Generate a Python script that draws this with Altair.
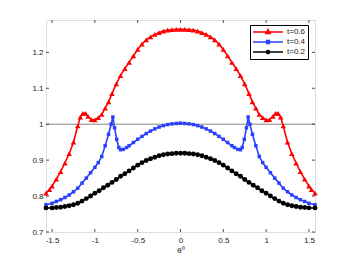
import altair as alt
import pandas as pd

# ---- data ----
series_names = ["t=0.6", "t=0.4", "t=0.2"]
series_colors = ["#ff0000", "#2b3fff", "#000000"]

theta_red = [-1.5708, -1.53, -1.50, -1.45, -1.40, -1.35, -1.30, -1.25, -1.20, -1.17, -1.14, -1.11,
             -1.08, -1.04, -1.00, -0.96, -0.92, -0.88, -0.84, -0.80, -0.75, -0.70, -0.65, -0.60,
             -0.55, -0.50, -0.45, -0.40, -0.35, -0.30, -0.25, -0.20, -0.15, -0.10, -0.05, 0.0,
             0.05, 0.10, 0.15, 0.20, 0.25, 0.30, 0.35, 0.40, 0.45, 0.50, 0.55, 0.60, 0.65, 0.70,
             0.75, 0.80, 0.84, 0.88, 0.92, 0.96, 1.00, 1.04, 1.08, 1.11, 1.14, 1.17, 1.20, 1.25,
             1.30, 1.35, 1.40, 1.45, 1.50, 1.53, 1.5708]
red = [0.808, 0.818, 0.828, 0.847, 0.868, 0.892, 0.918, 0.950, 0.995, 1.020, 1.030, 1.030,
       1.022, 1.013, 1.012, 1.018, 1.027, 1.045, 1.062, 1.085, 1.112, 1.135, 1.155, 1.172,
       1.190, 1.208, 1.223, 1.235, 1.243, 1.250, 1.255, 1.259, 1.262, 1.263, 1.264, 1.264,
       1.264, 1.263, 1.262, 1.259, 1.255, 1.250, 1.243, 1.235, 1.223, 1.208, 1.190, 1.172,
       1.155, 1.135, 1.112, 1.085, 1.062, 1.045, 1.027, 1.018, 1.012, 1.013, 1.022, 1.030,
       1.030, 1.020, 0.995, 0.950, 0.918, 0.892, 0.868, 0.847, 0.828, 0.818, 0.808]

theta_blue = [-1.5708, -1.50, -1.45, -1.40, -1.35, -1.30, -1.25, -1.20, -1.15, -1.10, -1.05, -1.00,
              -0.96, -0.92, -0.88, -0.84, -0.81, -0.79, -0.77, -0.745, -0.72, -0.70, -0.67, -0.63,
              -0.60, -0.55, -0.50, -0.45, -0.40, -0.35, -0.30, -0.25, -0.20, -0.15, -0.10, -0.05,
              0.0,
              0.05, 0.10, 0.15, 0.20, 0.25, 0.30, 0.35, 0.40, 0.45, 0.50, 0.55, 0.60, 0.63, 0.67,
              0.70, 0.72, 0.745, 0.77, 0.79, 0.81, 0.84, 0.88, 0.92, 0.96, 1.00, 1.05, 1.10, 1.15,
              1.20, 1.25, 1.30, 1.35, 1.40, 1.45, 1.50, 1.5708]
blue = [0.776, 0.780, 0.785, 0.790, 0.796, 0.803, 0.812, 0.822, 0.836, 0.850, 0.865, 0.880,
        0.893, 0.910, 0.940, 0.972, 1.000, 1.020, 0.990, 0.958, 0.935, 0.929, 0.930, 0.935,
        0.940, 0.949, 0.958, 0.966, 0.974, 0.981, 0.987, 0.992, 0.996, 0.999, 1.001, 1.002,
        1.003,
        1.002, 1.001, 0.999, 0.996, 0.992, 0.987, 0.981, 0.974, 0.966, 0.958, 0.949, 0.940,
        0.935, 0.930, 0.929, 0.935, 0.958, 0.990, 1.020, 1.000, 0.972, 0.940, 0.910, 0.893,
        0.880, 0.865, 0.850, 0.836, 0.822, 0.812, 0.803, 0.796, 0.790, 0.785, 0.780, 0.776]

theta_black = [-1.5708, -1.50, -1.45, -1.40, -1.35, -1.30, -1.25, -1.20, -1.15, -1.10, -1.05, -1.00,
               -0.95, -0.90, -0.85, -0.80, -0.75, -0.70, -0.65, -0.60, -0.55, -0.50, -0.45, -0.40,
               -0.35, -0.30, -0.25, -0.20, -0.15, -0.10, -0.05, 0.0,
               0.05, 0.10, 0.15, 0.20, 0.25, 0.30, 0.35, 0.40, 0.45, 0.50, 0.55, 0.60, 0.65, 0.70,
               0.75, 0.80, 0.85, 0.90, 0.95, 1.00, 1.05, 1.10, 1.15, 1.20, 1.25, 1.30, 1.35, 1.40,
               1.45, 1.50, 1.5708]
black = [0.767, 0.767, 0.768, 0.769, 0.771, 0.773, 0.776, 0.780, 0.786, 0.793, 0.800, 0.808,
         0.815, 0.823, 0.830, 0.838, 0.846, 0.855, 0.862, 0.870, 0.878, 0.886, 0.893, 0.899,
         0.904, 0.908, 0.912, 0.915, 0.917, 0.918, 0.919, 0.919,
         0.919, 0.918, 0.917, 0.915, 0.912, 0.908, 0.904, 0.899, 0.893, 0.886, 0.878, 0.870,
         0.862, 0.855, 0.846, 0.838, 0.830, 0.823, 0.815, 0.808, 0.800, 0.793, 0.786, 0.780,
         0.776, 0.773, 0.771, 0.769, 0.768, 0.767, 0.767]

x_ticks = [-1.5, -1, -0.5, 0, 0.5, 1, 1.5]
y_ticks = [0.7, 0.8, 0.9, 1.0, 1.1, 1.2]
ref_line = [1.0]
x_domain = [-1.5708, 1.5708]
y_domain = [0.7, 1.29]

# ---- build tables ----
df = pd.concat([
    pd.DataFrame({"theta": theta_red, "value": red, "series": series_names[0]}),
    pd.DataFrame({"theta": theta_blue, "value": blue, "series": series_names[1]}),
    pd.DataFrame({"theta": theta_black, "value": black, "series": series_names[2]}),
], ignore_index=True)
xt = pd.DataFrame({"theta": x_ticks})
yt = pd.DataFrame({"value": y_ticks})
rl = pd.DataFrame({"value": ref_line})

W, H = 269, 212
FONT = "Liberation Sans"

xs = alt.Scale(domain=x_domain, nice=False, zero=False)
ys = alt.Scale(domain=y_domain, nice=False, zero=False)

x_axis = alt.Axis(values=x_ticks, labelExpr="datum.value + ''", title="θ⁰",
                  grid=False, domain=False, ticks=False, tickSize=0, labelPadding=4,
                  labelFont=FONT, labelFontSize=8, labelColor="#222",
                  titleFont=FONT, titleFontSize=8, titleFontWeight="normal",
                  titleColor="#222", titlePadding=2)
y_axis = alt.Axis(values=y_ticks, labelExpr="datum.value + ''", title=None,
                  grid=False, domain=False, ticks=False, tickSize=0, labelPadding=3,
                  labelFont=FONT, labelFontSize=8, labelColor="#222")

X = alt.X("theta:Q", scale=xs, axis=x_axis)
Y = alt.Y("value:Q", scale=ys, axis=y_axis)


def cenc(legend=None):
    return alt.Color("series:N", scale=alt.Scale(domain=series_names, range=series_colors),
                     legend=legend)


base = alt.Chart(df)

ref = alt.Chart(rl).mark_rule(color="#666", strokeWidth=0.8).encode(y=Y)

lines = base.mark_line().encode(
    x=X, y=Y, color=cenc(), detail="series:N", order="theta:Q",
    strokeWidth=alt.StrokeWidth("series:N", scale=alt.Scale(domain=series_names, range=[1.6, 1.6, 3]),
                                legend=None),
)

marker_shapes = ["triangle-up", "square", "circle"]
marker_sizes = [30, 12, 24]
pts = []
for name, shp, sz in zip(series_names, marker_shapes, marker_sizes):
    pts.append(base.transform_filter(alt.datum.series == name).mark_point(
        shape=shp, size=sz, filled=True, opacity=1).encode(x=X, y=Y, color=cenc()))

legend_paths = [
    "M-1,0H1M0,-0.18L0.16,0.1L-0.16,0.1Z",
    "M-1,0H1M-0.1,-0.1H0.1V0.1H-0.1Z",
    "M-1,0H1M-0.11,0A0.11,0.11,0,1,1,0.11,0A0.11,0.11,0,1,1,-0.11,0Z",
]
leg = alt.Legend(title=None, orient="none", legendX=204, legendY=5,
                 symbolSize=900, clipHeight=10, symbolStrokeWidth=1.3,
                 labelFont=FONT, labelFontSize=8, labelColor="#222", labelOffset=3,
                 padding=2, rowPadding=0, fillColor="white", strokeColor="#000",
                 symbolOpacity=1)
legend_layer = base.transform_filter("false").mark_point(filled=False).encode(
    x=X, y=Y, color=cenc(leg),
    shape=alt.Shape("series:N", scale=alt.Scale(domain=series_names, range=legend_paths),
                    legend=leg),
)

tick_col = "#222"
xt_bottom = alt.Chart(xt).mark_rule(color=tick_col, strokeWidth=0.8).encode(
    x=X, y=alt.value(H), y2=alt.value(H - 3))
xt_top = alt.Chart(xt).mark_rule(color=tick_col, strokeWidth=0.8).encode(
    x=X, y=alt.value(0), y2=alt.value(3))
yt_left = alt.Chart(yt).mark_rule(color=tick_col, strokeWidth=0.8).encode(
    y=Y, x=alt.value(0), x2=alt.value(3))
yt_right = alt.Chart(yt).mark_rule(color=tick_col, strokeWidth=0.8).encode(
    y=Y, x=alt.value(W - 3), x2=alt.value(W))

chart = alt.layer(
    legend_layer, lines, ref, *pts, xt_bottom, xt_top, yt_left, yt_right
).resolve_scale(color="independent", shape="independent", strokeWidth="independent").properties(
    width=W, height=H,
    padding={"left": 23, "top": 11, "right": 3, "bottom": 5},
).configure_view(
    stroke="#222", strokeWidth=1, clip=False
).configure(background="white")

chart.save("out.html", embed_options={"renderer": "svg", "actions": False})
